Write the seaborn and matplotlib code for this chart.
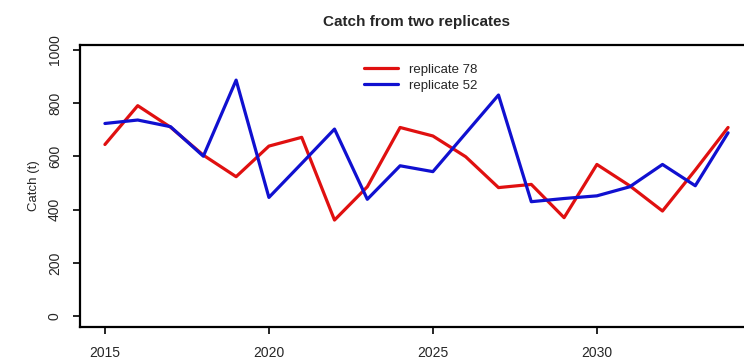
import numpy as np
import pandas as pd
import matplotlib
matplotlib.use("Agg")
import matplotlib.pyplot as plt
import seaborn as sns

years = list(range(2015, 2035))
replicate_78 = [645, 791, 710, 605, 524, 639, 672, 361, 486, 709,
                677, 599, 483, 495, 370, 570, 490, 395, 549, 709]
replicate_52 = [724, 737, 712, 601, 887, 446, 574, 703, 439, 565,
                543, 687, 831, 430, 442, 452, 486, 570, 490, 689]
series_names = ["replicate 78", "replicate 52"]
series_colors = ["#e01010", "#1010d0"]
y_ticks = [0, 200, 400, 600, 800, 1000]
x_ticks = [2015, 2020, 2025, 2030]

df = pd.DataFrame({
    "Year": years * 2,
    "Catch": replicate_78 + replicate_52,
    "Replicate": [series_names[0]] * len(years) + [series_names[1]] * len(years),
})

sns.set_style("white")
plt.rcParams["font.family"] = ["Liberation Sans", "DejaVu Sans"]

fig = plt.figure(figsize=(7.44, 3.62), dpi=100)
ax = fig.add_axes([80 / 744, 1 - 327 / 362, 673 / 744, 282 / 362])

sns.lineplot(data=df, x="Year", y="Catch", hue="Replicate",
             palette=dict(zip(series_names, series_colors)),
             linewidth=2.3, ax=ax, legend=False)

ax.set_xlim(2014.24, 2034.76)
ax.set_ylim(-41, 1019)
ax.set_xticks(x_ticks)
ax.set_yticks(y_ticks)
ax.set_xticklabels([str(t) for t in x_ticks], fontsize=10)
ax.set_yticklabels([str(t) for t in y_ticks], fontsize=10, rotation=90, va="center")
ax.tick_params(axis="both", direction="out", length=5, width=1.2, color="black",
               bottom=True, left=True)
ax.tick_params(axis="x", pad=9)
ax.tick_params(axis="y", pad=8)
ax.set_xlabel("")
ax.set_ylabel("Catch (t)", fontsize=9.5, labelpad=6)
for s in ax.spines.values():
    s.set_color("black")
    s.set_linewidth(1.6)

ax.set_title("Catch from two replicates", fontsize=11, fontweight="bold", pad=14)

handles = [plt.Line2D([], [], color=c, lw=2.3) for c in series_colors]
fig.legend(handles, series_names, loc="upper left",
           bbox_to_anchor=(352 / 744, 1 - 52 / 362), frameon=False,
           fontsize=9.5, handlelength=2.6, handletextpad=0.8, labelspacing=0.25)

fig.savefig("out.png", dpi=100)
